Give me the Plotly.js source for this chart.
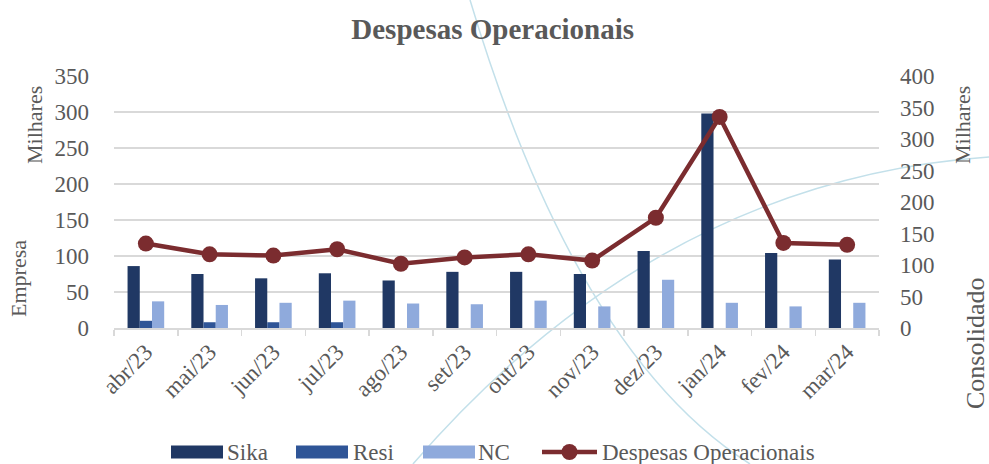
<!DOCTYPE html>
<html>
<head>
<meta charset="utf-8">
<script src="https://cdn.plot.ly/plotly-3.0.1.min.js"></script>
<style>html,body{margin:0;padding:0;background:#fff;}#chart{width:989px;height:464px;}</style>
</head>
<body>
<div id="chart"></div>
<script>
const months = ['abr/23','mai/23','jun/23','jul/23','ago/23','set/23','out/23','nov/23','dez/23','jan/24','fev/24','mar/24'];
const sika = [86, 75, 69, 76, 66, 78, 78, 75, 107, 298, 104, 95];
const resi = [10, 8, 8, 8, 0, 0, 0, 0, 0, 0, 0, 0];
const nc = [37, 32, 35, 38, 34, 33, 38, 30, 67, 35, 30, 35];
const despesas = [134, 117, 115, 125, 102, 112, 117, 107, 175, 335, 135, 132];
const seriesNames = ['Sika', 'Resi', 'NC', 'Despesas Operacionais'];
const seriesColors = ['#203864', '#2f5597', '#8faadc', '#7b2c2f'];

const FONT = 'Liberation Serif, Times New Roman, serif';
const GREY = '#595959';
const W = 989, H = 464;
const M = {l: 114, r: 110, t: 76, b: 136};
const PW = W - M.l - M.r, PH = H - M.t - M.b;
const fx = x => (x - M.l) / PW;
const fy = y => (H - M.b - y) / PH;
function px(x, y) { return fx(x).toFixed(4) + ',' + fy(y).toFixed(4); }

const traces = [
  {type: 'bar', name: seriesNames[0], x: months, y: sika, marker: {color: seriesColors[0]}},
  {type: 'bar', name: seriesNames[1], x: months, y: resi, marker: {color: seriesColors[1]}},
  {type: 'bar', name: seriesNames[2], x: months, y: nc, marker: {color: seriesColors[2]}},
  {type: 'scatter', mode: 'lines+markers', name: seriesNames[3], x: months, y: despesas, yaxis: 'y2',
   line: {color: seriesColors[3], width: 4.5}, marker: {color: seriesColors[3], size: 16}}
];

const decoColor = '#c3e0ea';
const shapes = [
  {type: 'path', xref: 'paper', yref: 'paper', layer: 'below', line: {color: decoColor, width: 1.5},
   path: 'M' + px(470, 0) + ' Q' + px(576, 354) + ' ' + px(750, 464)},
  {type: 'path', xref: 'paper', yref: 'paper', layer: 'below', line: {color: decoColor, width: 1.5},
   path: 'M' + px(413, 464) + ' Q' + px(659, 180) + ' ' + px(989, 157)}
];

// custom legend (wide swatches as in the reference)
const legY = 452;
const legItems = [
  {sx: 171, tx: 226, kind: 'bar'},
  {sx: 296, tx: 352, kind: 'bar'},
  {sx: 423, tx: 477, kind: 'bar'},
  {sx: 542, tx: 601, kind: 'line'}
];
const annotations = [];
legItems.forEach((it, i) => {
  if (it.kind === 'bar') {
    shapes.push({type: 'rect', xref: 'paper', yref: 'paper', x0: fx(it.sx), x1: fx(it.sx + 52), y0: fy(legY - 6.5), y1: fy(legY + 6.5),
                 fillcolor: seriesColors[i], line: {width: 0}});
  } else {
    shapes.push({type: 'line', xref: 'paper', yref: 'paper', x0: fx(it.sx), x1: fx(it.sx + 55), y0: fy(legY), y1: fy(legY),
                 line: {color: seriesColors[i], width: 4.5}});
    shapes.push({type: 'circle', xref: 'paper', yref: 'paper', x0: fx(it.sx + 27.5 - 8), x1: fx(it.sx + 27.5 + 8), y0: fy(legY - 8), y1: fy(legY + 8),
                 fillcolor: seriesColors[i], line: {width: 0}});
  }
  annotations.push({text: seriesNames[i], xref: 'paper', yref: 'paper', x: fx(it.tx), y: fy(legY), xanchor: 'left', yanchor: 'middle',
                    showarrow: false, borderpad: 0, font: {family: FONT, size: 23, color: GREY}});
});

annotations.push(
  {text: 'Milhares', xref: 'paper', yref: 'paper', x: fx(34), y: fy(125), textangle: -90,
   showarrow: false, font: {family: FONT, size: 22, color: GREY}, xanchor: 'center', yanchor: 'middle'},
  {text: 'Empresa', xref: 'paper', yref: 'paper', x: fx(18), y: fy(279), textangle: -90,
   showarrow: false, font: {family: FONT, size: 22, color: GREY}, xanchor: 'center', yanchor: 'middle'},
  {text: 'Milhares', xref: 'paper', yref: 'paper', x: fx(962), y: fy(125), textangle: -90,
   showarrow: false, font: {family: FONT, size: 22, color: GREY}, xanchor: 'center', yanchor: 'middle'},
  {text: 'Consolidado', xref: 'paper', yref: 'paper', x: fx(975), y: fy(344), textangle: -90,
   showarrow: false, borderpad: 0, font: {family: FONT, size: 26, color: GREY}, xanchor: 'center', yanchor: 'middle'}
);

const layout = {
  width: W, height: H,
  margin: M,
  paper_bgcolor: '#fff', plot_bgcolor: 'rgba(0,0,0,0)',
  font: {family: FONT, color: GREY, size: 23},
  title: {text: 'Despesas Operacionais', font: {family: FONT, size: 29, color: GREY, weight: 'bold'},
          x: 0.495, xanchor: 'center', y: 1 - 29 / H, yanchor: 'middle', xref: 'paper', yref: 'container'},
  barmode: 'group', bargap: 0.425, bargroupgap: 0,
  showlegend: false,
  xaxis: {type: 'category', range: [-0.5, 11.5], showline: true, linecolor: '#d9d9d9', linewidth: 1.5, ticks: 'outside', tickson: 'boundaries',
          ticklen: 6, tickcolor: '#d9d9d9', tickwidth: 1.5, tickangle: -45, showgrid: false, zeroline: false,
          tickfont: {family: FONT, size: 23, color: GREY}},
  yaxis: {range: [0, 350], dtick: 50, showgrid: true, gridcolor: '#d9d9d9', gridwidth: 1.5, zeroline: false,
          showline: false, ticks: '', ticklabelstandoff: 24, tickfont: {family: FONT, size: 23, color: GREY}},
  yaxis2: {range: [0, 400], dtick: 50, overlaying: 'y', side: 'right', showgrid: false, zeroline: false,
           showline: false, ticks: '', ticklabelstandoff: 20, tickfont: {family: FONT, size: 23, color: GREY}},
  annotations: annotations,
  shapes: shapes
};

Plotly.newPlot('chart', traces, layout, {staticPlot: true, displayModeBar: false});
</script>
</body>
</html>
